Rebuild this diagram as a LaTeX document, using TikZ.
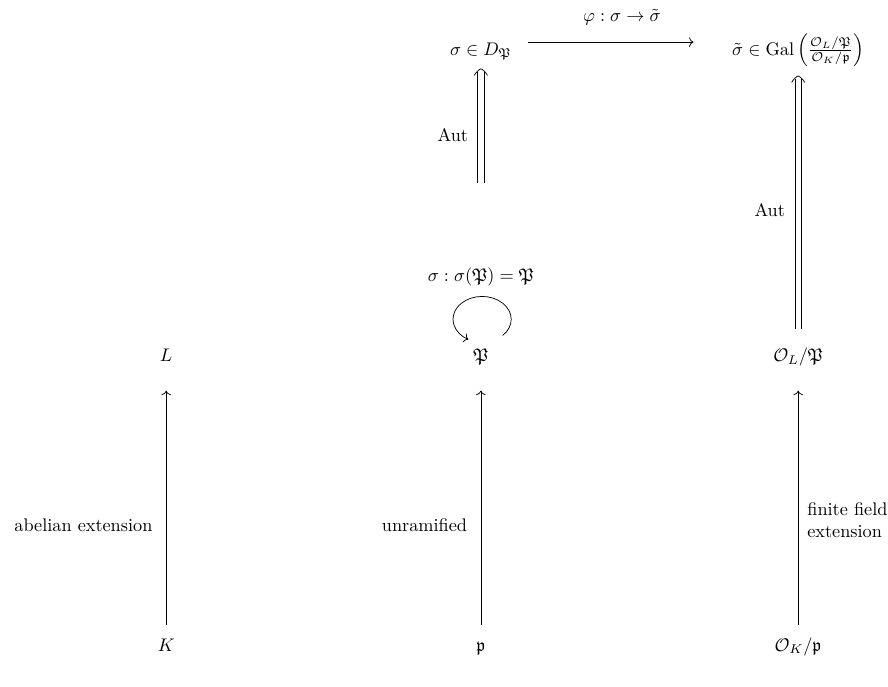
\documentclass[tikz,border=0pt]{standalone}
\usepackage{amsmath, amssymb}
\usepackage{tikz}
\usetikzlibrary{arrows.meta, positioning, calc}
\tikzset{
  every picture/.style={>=To},
  obj/.style={anchor=base, text height=7pt, text depth=2.5pt},
  flecha/.style={->, shorten <=0.14cm, shorten >=0.34cm},
  punta/.pic={\draw (-3.6pt,-3.6pt) .. controls (-2.6pt,-1.7pt) and (-1pt,-0.4pt) .. (0,0)
                    .. controls (1pt,-0.4pt) and (2.6pt,-1.7pt) .. (3.6pt,-3.6pt);},
}
% doble flecha: dos lineas y una punta
\newcommand{\flechadoble}[2]{%
  \draw ([xshift=-1.8pt]#1) -- ([xshift=-1.8pt,yshift=-1.6pt]#2);
  \draw ([xshift=1.8pt]#1) -- ([xshift=1.8pt,yshift=-1.6pt]#2);
  \pic at (#2) {punta};}

\begin{document}
\begin{tikzpicture}
  \useasboundingbox (0,0) rectangle (17.1,13.21);
  \node[obj] (K) at (3.20,0.674) {$K$};
  \node[obj] (L) at (3.20,6.24) {$L$};
  \node[obj] (p) at (9.26,0.674) {$\mathfrak{p}$};
  \node[obj] (P) at (9.26,6.24) {$\mathfrak{P}$};
  \node[obj] (OKp) at (15.37,0.674) {$\mathcal{O}_K/\mathfrak{p}$};
  \node[obj] (OLP) at (15.37,6.24) {$\mathcal{O}_L/\mathfrak{P}$};
  \node[anchor=base] (D) at (9.26,12.15) {$\sigma\in D_{\mathfrak{P}}$};
  \node[anchor=base] (Gal) at (15.37,12.15) {$\tilde{\sigma}\in\mathrm{Gal}\left(\frac{\mathcal{O}_L/\mathfrak{P}}{\mathcal{O}_K/\mathfrak{p}}\right)$};
  \node (Fix) at (9.26,7.88) {$\sigma:\sigma(\mathfrak{P})=\mathfrak{P}$};
  \coordinate (autL) at (9.26,9.69);
  \coordinate (tipL) at ([yshift=-1.2pt]D.south);
  \coordinate (autR) at ([yshift=0.26cm]OLP.north);
  \coordinate (tipR) at ([yshift=-0.05cm]Gal.south);
  \draw[flecha] (K) -- (L) node[pos=0.41, left=4pt] {abelian extension};
  \draw[flecha] (p) -- (P) node[pos=0.41, left=4pt] {unramified};
  \draw[flecha] (OKp) -- (OLP) node[pos=0.43, right=1.5pt, align=left] {finite field\\extension};
  \draw[->] ($(P.north)+(0.42,0.14)$) arc[start angle=-45, end angle=242, x radius=0.56cm, y radius=0.44cm];
  \flechadoble{autL}{tipL}
  \path (autL) -- (tipL) node[pos=0.42, left=3.5pt] {Aut};
  \flechadoble{autR}{tipR}
  \path (autR) -- (tipR) node[pos=0.47, left=3.7pt] {Aut};
  \draw[->, shorten <=0.19cm, shorten >=0.62cm] ($(D.base east)+(0,0.25)$) -- ($(Gal.base west)+(0,0.25)$) node[midway, above=6pt] {$\varphi:\sigma\to\tilde{\sigma}$};
\end{tikzpicture}
\end{document}
